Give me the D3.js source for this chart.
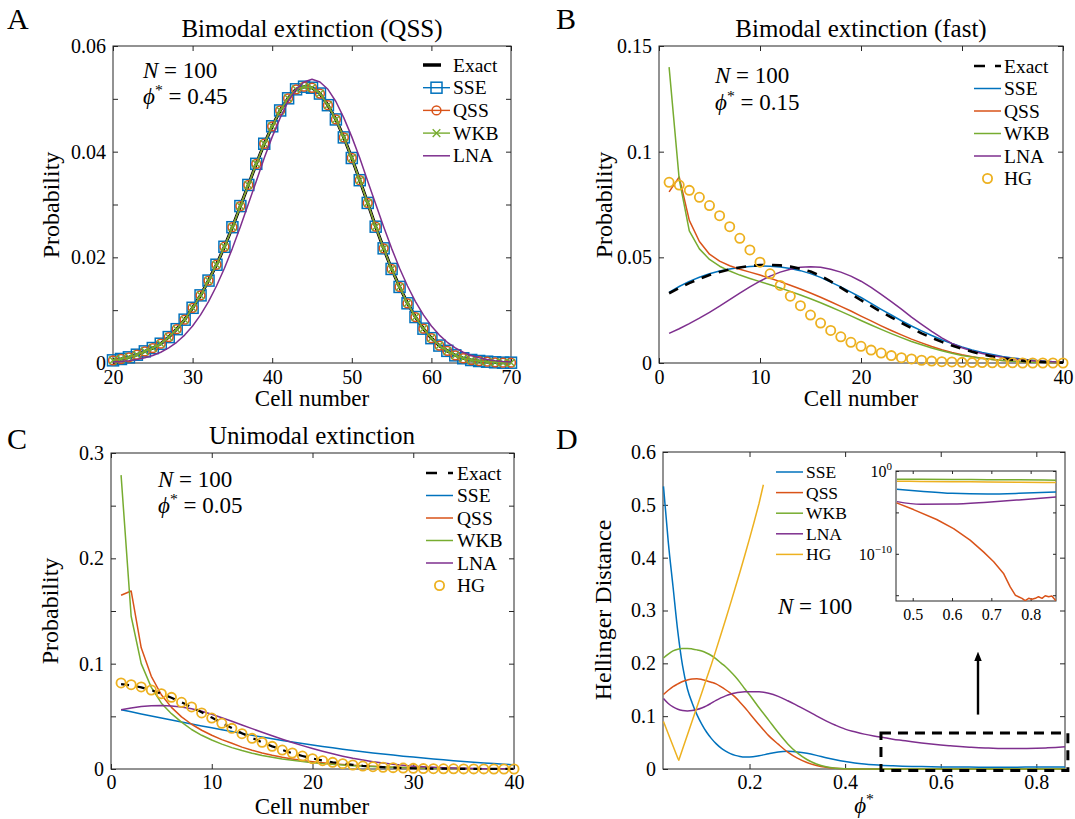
<!DOCTYPE html>
<html>
<head>
<meta charset="utf-8">
<script src="https://cdn.jsdelivr.net/npm/d3@7"></script>
<style>
  body { margin: 0; background: #fff; }
  text { font-family: "Liberation Serif", "DejaVu Serif", serif; fill: #000; }
  .axis text { font-size: 20px; fill: #000; }
  .axis line { stroke: #262626; }
  .inset .axis text { font-size: 16px; }
</style>
</head>
<body>
<svg id="fig" width="1075" height="819"></svg>
<script>
// Four panels: probability distributions (A-C) and Hellinger distance (D)

// ---- data ----
const cellsA = [20, 21, 22, 23, 24, 25, 26, 27, 28, 29, 30, 31, 32, 33, 34, 35, 36, 37, 38, 39,
  40, 41, 42, 43, 44, 45, 46, 47, 48, 49, 50, 51, 52, 53, 54, 55, 56, 57, 58, 59,
  60, 61, 62, 63, 64, 65, 66, 67, 68, 69, 70];
const cells = [1, 2, 3, 4, 5, 6, 7, 8, 9, 10, 11, 12, 13, 14, 15, 16, 17, 18, 19, 20,
  21, 22, 23, 24, 25, 26, 27, 28, 29, 30, 31, 32, 33, 34, 35, 36, 37, 38, 39, 40];

// A: bimodal extinction (QSS), phi* = 0.45
const exactA = [0.0005, 0.00076, 0.00107, 0.00157, 0.0022, 0.00283, 0.00365, 0.0049, 0.0064, 0.0082,
  0.01045, 0.0128, 0.0156, 0.0186, 0.022, 0.0257, 0.0297, 0.0337, 0.0377, 0.0415,
  0.0448, 0.0478, 0.0501, 0.0518, 0.0523, 0.0521, 0.051, 0.0488, 0.0461, 0.0427,
  0.0388, 0.0346, 0.0303, 0.0258, 0.0217, 0.0178, 0.0144, 0.0113, 0.0087, 0.0065,
  0.0047, 0.0033, 0.0023, 0.00145, 0.0009, 0.00057, 0.00038, 0.00025, 0.00013, 0.00006, 0.00006];
// SSE, QSS and WKB sit on top of the exact curve at this scale
const sseA = exactA;
const qssA = exactA;
const wkbA = exactA;
const lnaA = [0.00019, 0.00029, 0.00045, 0.00067, 0.00099, 0.00143, 0.00204, 0.00285, 0.00392, 0.00528,
  0.007, 0.0091, 0.01162, 0.01457, 0.01794, 0.0217, 0.0258, 0.0301, 0.0344, 0.0388,
  0.0428, 0.0464, 0.0495, 0.0518, 0.0532, 0.0537, 0.0532, 0.0518, 0.0495, 0.0464,
  0.0428, 0.0388, 0.0344, 0.0301, 0.0258, 0.0217, 0.01794, 0.01457, 0.01162, 0.0091,
  0.007, 0.00528, 0.00392, 0.00285, 0.00204, 0.00143, 0.00099, 0.00067, 0.00045, 0.00029, 0.00019];

// B: bimodal extinction (fast), phi* = 0.15
const exactB = [0.033, 0.0355, 0.0378, 0.0398, 0.0416, 0.0431, 0.0443, 0.0452, 0.0459, 0.0463,
  0.0464, 0.0462, 0.0456, 0.0446, 0.0433, 0.0412, 0.0386, 0.0357, 0.0327, 0.0297,
  0.027, 0.0242, 0.0216, 0.019, 0.0165, 0.014, 0.0119, 0.01, 0.0083, 0.0067,
  0.0053, 0.0041, 0.0031, 0.0022, 0.0016, 0.0011, 0.0007, 0.0005, 0.0003, 0.0002];
const sseB = [0.0334, 0.0362, 0.0386, 0.0406, 0.0422, 0.0435, 0.0445, 0.0452, 0.0457, 0.0459,
  0.0458, 0.0454, 0.0447, 0.0437, 0.0423, 0.0405, 0.0383, 0.036, 0.0335, 0.031,
  0.0282, 0.0254, 0.0227, 0.02, 0.0175, 0.0152, 0.013, 0.011, 0.0092, 0.0076,
  0.0062, 0.005, 0.004, 0.0031, 0.0024, 0.0018, 0.0013, 0.0009, 0.0006, 0.0004];
const qssB = [0.081, 0.088, 0.0675, 0.0575, 0.0515, 0.0482, 0.046, 0.0444, 0.043, 0.0416,
  0.0401, 0.0385, 0.0368, 0.035, 0.0331, 0.0311, 0.029, 0.0268, 0.0246, 0.0222,
  0.0199, 0.0176, 0.0154, 0.0133, 0.0113, 0.0095, 0.0078, 0.0063, 0.005, 0.0039,
  0.003, 0.0023, 0.0017, 0.0012, 0.0009, 0.0006, 0.0004, 0.0003, 0.0002, 0.0001];
const wkbB = [0.14, 0.087, 0.0625, 0.054, 0.049, 0.0458, 0.0435, 0.0416, 0.04, 0.0385,
  0.037, 0.0355, 0.0339, 0.0322, 0.0304, 0.0285, 0.0265, 0.0244, 0.0223, 0.0201,
  0.018, 0.0159, 0.0139, 0.012, 0.0102, 0.0086, 0.0071, 0.0058, 0.0046, 0.0036,
  0.0028, 0.0021, 0.0016, 0.0012, 0.0008, 0.0006, 0.0004, 0.0003, 0.0002, 0.0001];
const lnaB = [0.014, 0.0162, 0.0186, 0.0212, 0.024, 0.0269, 0.03, 0.0331, 0.036, 0.0387,
  0.0411, 0.043, 0.0444, 0.0453, 0.0456, 0.0453, 0.0444, 0.043, 0.0411, 0.0387,
  0.0358, 0.0325, 0.029, 0.0255, 0.0217, 0.0183, 0.015, 0.0119, 0.0093, 0.0072,
  0.0057, 0.0045, 0.0035, 0.0027, 0.002, 0.0015, 0.0011, 0.0008, 0.0006, 0.0004];
const hgB = [0.0855, 0.0842, 0.0817, 0.0784, 0.0745, 0.0697, 0.0645, 0.059, 0.0535, 0.0477,
  0.0422, 0.0367, 0.0316, 0.0271, 0.0227, 0.0189, 0.0154, 0.0124, 0.0098, 0.0079,
  0.0061, 0.0047, 0.0035, 0.0025, 0.0019, 0.0013, 0.0009, 0.0006, 0.0005, 0.0003,
  0.0002, 0.0002, 0.0001, 0.0001, 0.0001, 0, 0, 0, 0, 0];

// C: unimodal extinction, phi* = 0.05
const exactC = [0.0805, 0.0795, 0.0775, 0.0748, 0.0714, 0.0677, 0.0634, 0.0588, 0.0538, 0.0488,
  0.0437, 0.0388, 0.034, 0.0295, 0.0253, 0.0215, 0.0181, 0.015, 0.0124, 0.01,
  0.0081, 0.0064, 0.0051, 0.004, 0.003, 0.0023, 0.0017, 0.0013, 0.0009, 0.0007,
  0.0005, 0.0004, 0.0003, 0.0002, 0.0001, 0.0001, 0.0001, 0.0001, 0.0001, 0.0001];
const sseC = [0.0563, 0.0543, 0.0523, 0.0503, 0.0484, 0.0465, 0.0446, 0.0427, 0.0409, 0.0391,
  0.0373, 0.0355, 0.0337, 0.032, 0.0303, 0.0287, 0.0271, 0.0256, 0.0242, 0.0228,
  0.0214, 0.0201, 0.0188, 0.0176, 0.0164, 0.0153, 0.0142, 0.0132, 0.0122, 0.0113,
  0.0104, 0.0095, 0.0087, 0.0079, 0.0072, 0.0065, 0.0058, 0.0052, 0.0046, 0.004];
const qssC = [0.165, 0.169, 0.115, 0.088, 0.0705, 0.0585, 0.0495, 0.0425, 0.0368, 0.032,
  0.0279, 0.0244, 0.0208, 0.0178, 0.0152, 0.013, 0.0111, 0.0095, 0.0081, 0.0069,
  0.0059, 0.005, 0.0042, 0.0036, 0.003, 0.0025, 0.0021, 0.0017, 0.0014, 0.0012,
  0.001, 0.0008, 0.0006, 0.0005, 0.0004, 0.0003, 0.0002, 0.0002, 0.0001, 0.0001];
const wkbC = [0.279, 0.145, 0.1, 0.0775, 0.0625, 0.0525, 0.0445, 0.0375, 0.032, 0.0275,
  0.0236, 0.0203, 0.0175, 0.015, 0.0129, 0.0111, 0.0095, 0.0082, 0.007, 0.006,
  0.0051, 0.0044, 0.0037, 0.0032, 0.0027, 0.0023, 0.0019, 0.0016, 0.0014, 0.0012,
  0.001, 0.0008, 0.0007, 0.0005, 0.0004, 0.0003, 0.0002, 0.0002, 0.0001, 0.0001];
const lnaC = [0.0563, 0.058, 0.0593, 0.06, 0.0602, 0.0598, 0.0588, 0.0572, 0.0548, 0.0519,
  0.0487, 0.0453, 0.0418, 0.0383, 0.0349, 0.0315, 0.0282, 0.0251, 0.0222, 0.0194,
  0.0168, 0.0144, 0.0122, 0.0102, 0.0085, 0.0069, 0.0056, 0.0045, 0.0035, 0.0027,
  0.0021, 0.0016, 0.0012, 0.0009, 0.0006, 0.0005, 0.0003, 0.0002, 0.0002, 0.0001];
const hgC = [0.0817, 0.08, 0.0779, 0.075, 0.0715, 0.068, 0.0633, 0.0589, 0.0532, 0.0484,
  0.0434, 0.0386, 0.0335, 0.0291, 0.0253, 0.0215, 0.018, 0.0152, 0.0123, 0.0098,
  0.0079, 0.0063, 0.0051, 0.0038, 0.0028, 0.0022, 0.0016, 0.0013, 0.0009, 0.0006,
  0.0004, 0.0003, 0.0002, 0.0002, 0.0001, 0.0001, 0.0001, 0, 0, 0];

// D: Hellinger distance vs phi*
const phiD = [0.02, 0.03, 0.04, 0.05, 0.06, 0.07, 0.08, 0.09, 0.10, 0.11, 0.12, 0.13, 0.14, 0.15,
  0.16, 0.17, 0.18, 0.19, 0.20, 0.22, 0.24, 0.26, 0.28, 0.30, 0.32, 0.34, 0.36, 0.38, 0.40,
  0.42, 0.44, 0.46, 0.48, 0.50, 0.52, 0.54, 0.56, 0.58, 0.60, 0.62, 0.64, 0.66, 0.68, 0.70,
  0.72, 0.74, 0.76, 0.78, 0.80, 0.82, 0.84, 0.86];
const sseD = [0.535, 0.43, 0.345, 0.26, 0.195, 0.152, 0.125, 0.103, 0.085, 0.07, 0.058, 0.048,
  0.04, 0.034, 0.029, 0.0258, 0.0238, 0.0228, 0.0228, 0.025, 0.0288, 0.0322, 0.0334, 0.0324,
  0.0297, 0.0258, 0.0213, 0.0174, 0.0141, 0.0114, 0.0094, 0.0079, 0.0068, 0.006, 0.0054,
  0.0049, 0.0045, 0.0042, 0.004, 0.0038, 0.0037, 0.0036, 0.0035, 0.0035, 0.0035, 0.0035,
  0.0035, 0.0036, 0.0036, 0.0037, 0.0037, 0.0038];
const qssD = [0.141, 0.149, 0.156, 0.161, 0.1655, 0.1685, 0.1705, 0.1708, 0.1695, 0.1672, 0.1643,
  0.161, 0.1558, 0.15, 0.1435, 0.136, 0.1265, 0.1165, 0.1055, 0.0838, 0.0632, 0.047, 0.032,
  0.0205, 0.0123, 0.0068, 0.0033, 0.0012, 0.0004, 0.0001, 0, 0, 0, 0, 0, 0, 0, 0, 0, 0, 0,
  0, 0, 0, 0, 0, 0, 0, 0, 0, 0, 0];
const wkbD = [0.21, 0.2175, 0.2235, 0.2268, 0.228, 0.2282, 0.2272, 0.2255, 0.2232, 0.2195, 0.2148,
  0.2085, 0.2008, 0.1935, 0.1845, 0.175, 0.164, 0.152, 0.1405, 0.116, 0.0925, 0.069, 0.0475,
  0.0305, 0.018, 0.0095, 0.0042, 0.0015, 0.0005, 0.0002, 0.0001, 0, 0, 0, 0, 0, 0, 0, 0, 0,
  0, 0, 0, 0, 0, 0, 0, 0, 0, 0, 0, 0];
const lnaD = [0.1335, 0.124, 0.1175, 0.1132, 0.1108, 0.11, 0.1106, 0.1125, 0.1155, 0.1195, 0.1245,
  0.1298, 0.1345, 0.1385, 0.1415, 0.1437, 0.1452, 0.1461, 0.1464, 0.1462, 0.1433, 0.1375,
  0.1292, 0.12, 0.1106, 0.1005, 0.0912, 0.0828, 0.0755, 0.0705, 0.066, 0.0625, 0.0595,
  0.0565, 0.054, 0.0515, 0.0492, 0.0472, 0.0455, 0.044, 0.0425, 0.0413, 0.0403, 0.0396,
  0.039, 0.0387, 0.0386, 0.0388, 0.0392, 0.0399, 0.0408, 0.042];
const phiHG = [0.02, 0.03, 0.04, 0.05, 0.052, 0.06, 0.07, 0.08, 0.09, 0.10, 0.11, 0.12, 0.13,
  0.14, 0.15, 0.16, 0.17, 0.18, 0.19, 0.20, 0.21, 0.22, 0.229];
const hgD = [0.09, 0.0668, 0.0436, 0.0204, 0.0165, 0.038, 0.0645, 0.091, 0.1175, 0.144, 0.171,
  0.1975, 0.2255, 0.254, 0.283, 0.3125, 0.3425, 0.373, 0.404, 0.436, 0.469, 0.503, 0.538];

// D inset (log scale)
const phiIn = [0.46, 0.52, 0.6, 0.69, 0.77, 0.865];
const sseIn = [6.2e-3, 3.6e-3, 2.0e-3, 1.7e-3, 2.0e-3, 2.9e-3];
const wkbIn = [0.1, 0.098, 0.095, 0.09, 0.085, 0.078];
const lnaIn = [2.0e-4, 9.6e-5, 1.0e-4, 1.7e-4, 3.2e-4, 7.4e-4];
const hgIn = [0.057, 0.055, 0.052, 0.048, 0.045, 0.041];
const phiInQ = [0.459, 0.502, 0.561, 0.604, 0.646, 0.68, 0.706, 0.731, 0.748, 0.761, 0.769,
  0.778, 0.786, 0.795, 0.803, 0.812, 0.82, 0.829, 0.837, 0.846, 0.854, 0.864];
const qssIn = [1.4e-4, 2.2e-5, 1.4e-6, 1.1e-7, 4.5e-9, 1.7e-10, 1.1e-11, 4.3e-13, 1.0e-14,
  1.0e-15, 6.6e-16, 4.2e-16, 2.2e-16, 4.2e-16, 3.2e-16, 4.2e-16, 6.6e-16, 4.2e-16, 8.7e-16,
  6.6e-16, 7.9e-16, 2.2e-16];

// ticks
const ticksA = { x: [20, 30, 40, 50, 60, 70], xl: [20, 30, 40, 50, 60, 70],
  y: [0, 0.01, 0.02, 0.03, 0.04, 0.05, 0.06], yl: [0, 0.02, 0.04, 0.06] };
const ticksB = { x: [0, 10, 20, 30, 40], xl: [0, 10, 20, 30, 40],
  y: [0, 0.05, 0.1, 0.15], yl: [0, 0.05, 0.1, 0.15] };
const ticksC = { x: [0, 10, 20, 30, 40], xl: [0, 10, 20, 30, 40],
  y: [0, 0.05, 0.1, 0.15, 0.2, 0.25, 0.3], yl: [0, 0.1, 0.2, 0.3] };
const ticksD = { x: [0.2, 0.4, 0.6, 0.8], xl: [0.2, 0.4, 0.6, 0.8],
  y: [0, 0.1, 0.2, 0.3, 0.4, 0.5, 0.6], yl: [0, 0.1, 0.2, 0.3, 0.4, 0.5, 0.6] };
const ticksIn = { x: [0.5, 0.6, 0.7, 0.8], xl: [0.5, 0.6, 0.7, 0.8],
  y: [1e-15, 1e-10, 1e-5, 1], yl: [] };

// zoom window and arrow in panel D (data units)
const zoomBox = { x0: 0.475, x1: 0.866, y0: -0.003, y1: 0.068 };
const arrowD = { x: 0.678, y0: 0.103, y1: 0.213 };

const col = { exact: "#000", sse: "#0072BD", qss: "#D95319", wkb: "#77AC30", lna: "#7E2F8E", hg: "#EDB120" };

// ---- drawing ----
const svg = d3.select("#fig");
svg.append("rect").attr("width", 1075).attr("height", 819).attr("fill", "#fff");

function panel(parent, box, x, y, t, tick, pad) {
  const g = parent.append("g");
  const lab = list => d => list.includes(d) ? String(d) : "";
  g.append("g").attr("class", "axis").
  attr("transform", `translate(0 ${box.b})`).
  call(d3.axisBottom(x).tickValues(t.x).tickFormat(lab(t.xl)).
  tickSizeInner(-tick).tickSizeOuter(0).tickPadding(pad[0]));
  g.append("g").attr("class", "axis").
  attr("transform", `translate(0 ${box.t})`).
  call(d3.axisTop(x).tickValues(t.x).tickFormat("").tickSizeInner(-tick).tickSizeOuter(0));
  g.append("g").attr("class", "axis").
  attr("transform", `translate(${box.l} 0)`).
  call(d3.axisLeft(y).tickValues(t.y).tickFormat(lab(t.yl)).
  tickSizeInner(-tick).tickSizeOuter(0).tickPadding(pad[1]));
  g.append("g").attr("class", "axis").
  attr("transform", `translate(${box.r} 0)`).
  call(d3.axisRight(y).tickValues(t.y).tickFormat("").tickSizeInner(-tick).tickSizeOuter(0));
  g.selectAll(".domain").remove();
  g.append("rect").
  attr("x", box.l).attr("y", box.t).
  attr("width", box.r - box.l).attr("height", box.b - box.t).
  attr("fill", "none").attr("stroke", "#262626").attr("stroke-width", 1);
  const data = parent.append("g");
  return { x, y, g: data, box };
}

function addLine(p, xs, ys, color, width, dash, curve) {
  const line = d3.line().
  x((d, i) => p.x(xs[i])).
  y(d => p.y(d)).
  curve(curve || d3.curveLinear);
  return p.g.append("path").
  datum(ys).
  attr("d", line).
  attr("fill", "none").
  attr("stroke", color).
  attr("stroke-width", width).
  attr("stroke-dasharray", dash || null).
  attr("stroke-linejoin", "round");
}

function marker(sel, kind, cx, cy, color) {
  if (kind === "square") {
    sel.append("rect").attr("x", cx - 5.5).attr("y", cy - 5.5).attr("width", 11).attr("height", 11).
    attr("fill", "none").attr("stroke", color).attr("stroke-width", 1.5);
  } else if (kind === "circle") {
    sel.append("circle").attr("cx", cx).attr("cy", cy).attr("r", 4.4).
    attr("fill", "none").attr("stroke", color).attr("stroke-width", 1.5);
  } else if (kind === "hg") {
    sel.append("circle").attr("cx", cx).attr("cy", cy).attr("r", 4.6).
    attr("fill", "none").attr("stroke", color).attr("stroke-width", 1.8);
  } else if (kind === "x") {
    sel.append("path").attr("d", `M${cx - 3.8},${cy - 3.8}L${cx + 3.8},${cy + 3.8}M${cx - 3.8},${cy + 3.8}L${cx + 3.8},${cy - 3.8}`).
    attr("stroke", color).attr("stroke-width", 1.4);
  }
}

function addMarkers(p, xs, ys, kind, color) {
  const g = p.g.append("g");
  ys.forEach((v, i) => marker(g, kind, p.x(xs[i]), p.y(v), color));
}

function legend(items, x0, x1, tx, y0, dy, size) {
  items.forEach((it, i) => {
    const yy = y0 + i * dy;
    if (it.width) {
      svg.append("line").
      attr("x1", x0).attr("x2", it.x2 || x1).attr("y1", yy).attr("y2", yy).
      attr("stroke", it.color).attr("stroke-width", it.width).
      attr("stroke-dasharray", it.dash || null);
    }
    if (it.marker) marker(svg, it.marker, (x0 + x1) / 2, yy, it.color);
    svg.append("text").
    attr("x", tx).attr("y", yy).attr("dy", "0.34em").
    style("font-size", size + "px").
    text(it.name);
  });
}

function label(x, y, size, txt, opts = {}) {
  const t = svg.append("text").
  attr("x", x).attr("y", y).
  attr("text-anchor", opts.anchor || "middle").
  style("font-size", size + "px").
  text(txt);
  if (opts.rotate) t.attr("transform", `rotate(-90 ${x} ${y})`);
  return t;
}

function mathNote(x, y, size, sym, value, anchor) {
  const t = svg.append("text").attr("x", x).attr("y", y).
  attr("text-anchor", anchor || "start").
  style("font-size", size + "px");
  if (sym === "N") {
    t.append("tspan").style("font-style", "italic").text("N");
  } else {
    t.append("tspan").style("font-style", "italic").text("ϕ");
    t.append("tspan").attr("dy", -0.38 * size).style("font-size", 0.68 * size + "px").text("*");
  }
  if (value !== null) {
    t.append("tspan").attr("dy", sym === "N" ? 0 : 0.38 * size).text(" = " + value);
  }
  return t;
}

// panel boxes
const boxA = { l: 113, r: 511, t: 46, b: 363 };
const boxB = { l: 659, r: 1063, t: 46, b: 363 };
const boxC = { l: 111, r: 514, t: 453, b: 769 };
const boxD = { l: 663, r: 1065, t: 452, b: 769 };
const boxIn = { l: 896, r: 1056, t: 471, b: 601 };

const lin = (dom, box) => [d3.scaleLinear().domain(dom[0]).range([box.l, box.r]),
  d3.scaleLinear().domain(dom[1]).range([box.b, box.t])];

// ---- A ----
const [xA, yA] = lin([[20, 70], [0, 0.06]], boxA);
const pA = panel(svg, boxA, xA, yA, ticksA, 5, [7, 7]);
addLine(pA, cellsA, exactA, col.exact, 3.2);
addLine(pA, cellsA, sseA, col.sse, 1.4);
addMarkers(pA, cellsA, sseA, "square", col.sse);
addLine(pA, cellsA, qssA, col.qss, 1.4);
addMarkers(pA, cellsA, qssA, "circle", col.qss);
addLine(pA, cellsA, wkbA, col.wkb, 1.4);
addMarkers(pA, cellsA, wkbA, "x", col.wkb);
addLine(pA, cellsA, lnaA, col.lna, 1.5);
legend([
  { name: "Exact", color: col.exact, width: 3.5, x2: 441 },
  { name: "SSE", color: col.sse, width: 1.4, marker: "square" },
  { name: "QSS", color: col.qss, width: 1.4, marker: "circle" },
  { name: "WKB", color: col.wkb, width: 1.4, marker: "x" },
  { name: "LNA", color: col.lna, width: 1.5 }],
423, 450, 453, 65, 22.7, 19.5);
label(312, 37, 25, "Bimodal extinction (QSS)");
label(312, 406, 23, "Cell number");
label(59, 205, 24, "Probability", { rotate: true });
mathNote(143, 78, 23, "N", "100");
mathNote(143, 104, 23, "phi", "0.45");

// ---- B ----
const [xB, yB] = lin([[0, 40], [0, 0.15]], boxB);
const pB = panel(svg, boxB, xB, yB, ticksB, 5, [7, 7]);
addLine(pB, cells, sseB, col.sse, 1.5);
addLine(pB, cells, qssB, col.qss, 1.5);
addLine(pB, cells, wkbB, col.wkb, 1.5);
addLine(pB, cells, lnaB, col.lna, 1.5);
addLine(pB, cells, exactB, col.exact, 2.6, "10,8");
addMarkers(pB, cells, hgB, "hg", col.hg);
legend([
  { name: "Exact", color: col.exact, width: 2.6, dash: "11,10" },
  { name: "SSE", color: col.sse, width: 1.5 },
  { name: "QSS", color: col.qss, width: 1.5 },
  { name: "WKB", color: col.wkb, width: 1.5 },
  { name: "LNA", color: col.lna, width: 1.5 },
  { name: "HG", color: col.hg, marker: "hg" }],
974, 1001, 1004, 66, 22.5, 19.5);
label(861, 37, 25, "Bimodal extinction (fast)");
label(861, 406, 23, "Cell number");
label(612, 205, 24, "Probability", { rotate: true });
mathNote(715, 83, 23, "N", "100");
mathNote(715, 110, 23, "phi", "0.15");

// ---- C ----
const [xC, yC] = lin([[0, 40], [0, 0.3]], boxC);
const pC = panel(svg, boxC, xC, yC, ticksC, 5, [6, 7]);
addLine(pC, cells, sseC, col.sse, 1.5);
addLine(pC, cells, qssC, col.qss, 1.5);
addLine(pC, cells, wkbC, col.wkb, 1.5);
addLine(pC, cells, lnaC, col.lna, 1.5);
addLine(pC, cells, exactC, col.exact, 2.2, "8,8");
addMarkers(pC, cells, hgC, "hg", col.hg);
legend([
  { name: "Exact", color: col.exact, width: 2.6, dash: "11,11" },
  { name: "SSE", color: col.sse, width: 1.5 },
  { name: "QSS", color: col.qss, width: 1.5 },
  { name: "WKB", color: col.wkb, width: 1.5 },
  { name: "LNA", color: col.lna, width: 1.5 },
  { name: "HG", color: col.hg, marker: "hg" }],
426, 453, 457, 473, 22.5, 19.5);
label(312, 444, 25, "Unimodal extinction");
label(312, 814, 23, "Cell number");
label(58, 611, 24, "Probability", { rotate: true });
mathNote(158, 487, 23, "N", "100");
mathNote(158, 513, 23, "phi", "0.05");

// ---- D ----
const [xD, yD] = lin([[0.019, 0.86], [0, 0.6]], boxD);
const pD = panel(svg, boxD, xD, yD, ticksD, 5, [6, 7]);
const smooth = d3.curveMonotoneX;
addLine(pD, phiD, sseD, col.sse, 1.5, null, smooth);
addLine(pD, phiD, qssD, col.qss, 1.5, null, smooth);
addLine(pD, phiD, wkbD, col.wkb, 1.5, null, smooth);
addLine(pD, phiD, lnaD, col.lna, 1.5, null, smooth);
addLine(pD, phiHG, hgD, col.hg, 1.5);
legend([
  { name: "SSE", color: col.sse, width: 1.5 },
  { name: "QSS", color: col.qss, width: 1.5 },
  { name: "WKB", color: col.wkb, width: 1.5 },
  { name: "LNA", color: col.lna, width: 1.5 },
  { name: "HG", color: col.hg, width: 1.5 }],
776, 803, 806, 472, 20.6, 17.5);
label(611, 610, 24, "Hellinger Distance", { rotate: true });
mathNote(864, 813, 23, "phi", null, "middle");
mathNote(778, 614, 23, "N", "100");

// zoom window + arrow
pD.g.append("rect").
attr("x", xD(zoomBox.x0)).attr("y", yD(zoomBox.y1)).
attr("width", xD(zoomBox.x1) - xD(zoomBox.x0)).
attr("height", yD(zoomBox.y0) - yD(zoomBox.y1)).
attr("fill", "none").attr("stroke", "#000").attr("stroke-width", 3).
attr("stroke-dasharray", "10,7");
svg.append("defs").append("marker").
attr("id", "head").attr("viewBox", "0 0 10 10").
attr("refX", 5).attr("refY", 5).
attr("markerWidth", 4).attr("markerHeight", 4).
attr("orient", "auto").
append("path").attr("d", "M0,1L10,5L0,9Z").attr("fill", "#000");
pD.g.append("line").
attr("x1", xD(arrowD.x)).attr("x2", xD(arrowD.x)).
attr("y1", yD(arrowD.y0)).attr("y2", yD(arrowD.y1)).
attr("stroke", "#000").attr("stroke-width", 2.4).
attr("marker-end", "url(#head)");

// ---- inset ----
const inset = svg.append("g").attr("class", "inset");
inset.append("rect").
attr("x", boxIn.l).attr("y", boxIn.t).
attr("width", boxIn.r - boxIn.l).attr("height", boxIn.b - boxIn.t).
attr("fill", "#fff");
const xIn = d3.scaleLinear().domain([0.4575, 0.8645]).range([boxIn.l, boxIn.r]);
const yIn = d3.scaleLog().domain([2e-16, 1]).range([boxIn.b, boxIn.t]);
const pIn = panel(inset, boxIn, xIn, yIn, ticksIn, 3, [8, 5]);
svg.append("clipPath").attr("id", "clipIn").append("rect").
attr("x", boxIn.l).attr("y", boxIn.t).
attr("width", boxIn.r - boxIn.l).attr("height", boxIn.b - boxIn.t);
pIn.g.attr("clip-path", "url(#clipIn)");
addLine(pIn, phiIn, wkbIn, col.wkb, 1.5, null, smooth);
addLine(pIn, phiIn, hgIn, col.hg, 1.5, null, smooth);
addLine(pIn, phiIn, sseIn, col.sse, 1.5, null, smooth);
addLine(pIn, phiIn, lnaIn, col.lna, 1.5, null, smooth);
addLine(pIn, phiInQ, qssIn, col.qss, 1.5);
[[1, "0"], [1e-10, "−10"]].forEach(([v, e]) => {
  const t = inset.append("text").
  attr("x", boxIn.l - 4).attr("y", yIn(v)).attr("dy", "0.36em").
  attr("text-anchor", "end").style("font-size", "16px");
  t.append("tspan").text("10");
  t.append("tspan").attr("dy", -7).style("font-size", "11px").text(e);
});

// panel letters
[["A", 7, 29], ["B", 556, 29], ["C", 7, 449], ["D", 556, 449]].forEach(([s, x, y]) => {
  label(x, y, 30, s, { anchor: "start" });
});
</script>
</body>
</html>
